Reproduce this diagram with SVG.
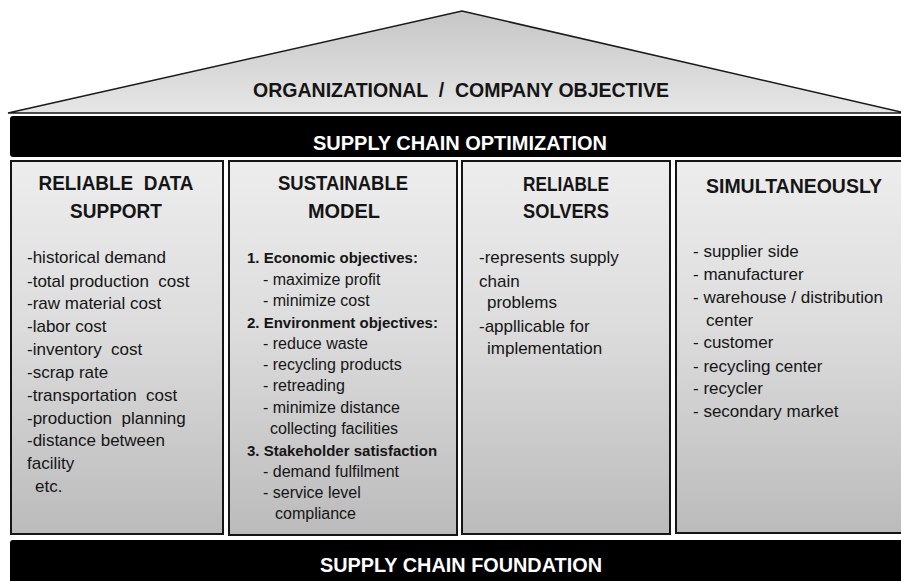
<svg xmlns="http://www.w3.org/2000/svg" width="901" height="581" viewBox="0 0 901 581">
<defs>
<linearGradient id="roofGrad" x1="0" y1="0" x2="0" y2="1">
<stop offset="0" stop-color="#c6c6c6"/>
<stop offset="1" stop-color="#e6e6e6"/>
</linearGradient>
<linearGradient id="colGrad" x1="0" y1="0" x2="0" y2="1">
<stop offset="0" stop-color="#ededed"/>
<stop offset="0.45" stop-color="#dcdcdc"/>
<stop offset="1" stop-color="#bbbbbb"/>
</linearGradient>
<style>
text{white-space:pre}
.col{fill:url(#colGrad);stroke:#151515;stroke-width:2}
.bar{fill:#000}
.hd{font-family:"Liberation Sans",Arial,sans-serif;font-weight:bold;font-size:20px;fill:#151515;text-anchor:middle}
.bt{font-family:"Liberation Sans",Arial,sans-serif;font-weight:bold;font-size:20px;fill:#fff;text-anchor:middle}
.tx{font-family:"Liberation Sans",Arial,sans-serif;font-size:17px;fill:#151515}
.t2{font-family:"Liberation Sans",Arial,sans-serif;font-size:16px;fill:#151515}
.b2{font-family:"Liberation Sans",Arial,sans-serif;font-size:15px;font-weight:bold;fill:#151515}
</style>
</defs>
<rect width="901" height="581" fill="#fff"/>
<g id="roof">
<polygon points="8,113 462,11 901,112 901,113" fill="url(#roofGrad)" stroke="#1a1a1a" stroke-width="1.6" stroke-linejoin="miter"/>
<text class="hd" x="461" y="97" font-size="21" textLength="416" lengthAdjust="spacingAndGlyphs" xml:space="preserve">ORGANIZATIONAL  /  COMPANY OBJECTIVE</text>
</g>
<g id="optimization">
<rect class="bar" x="10" y="116" width="900" height="41" rx="3"/>
<text class="bt" x="460" y="150" textLength="294" lengthAdjust="spacingAndGlyphs">SUPPLY CHAIN OPTIMIZATION</text>
</g>
<g id="reliable-data-support">
<rect class="col" x="11" y="161" width="212" height="373"/>
<text class="hd" x="116" y="190" textLength="155" lengthAdjust="spacingAndGlyphs" xml:space="preserve">RELIABLE  DATA</text>
<text class="hd" x="116" y="218" textLength="92" lengthAdjust="spacingAndGlyphs">SUPPORT</text>
<text class="tx" x="27" y="263">-historical demand</text>
<text class="tx" x="27" y="287" xml:space="preserve">-total production  cost</text>
<text class="tx" x="27" y="309">-raw material cost</text>
<text class="tx" x="27" y="332">-labor cost</text>
<text class="tx" x="27" y="355" xml:space="preserve">-inventory  cost</text>
<text class="tx" x="27" y="378">-scrap rate</text>
<text class="tx" x="27" y="401" xml:space="preserve">-transportation  cost</text>
<text class="tx" x="27" y="424" xml:space="preserve">-production  planning</text>
<text class="tx" x="27" y="446">-distance between</text>
<text class="tx" x="27" y="469">facility</text>
<text class="tx" x="35" y="492">etc.</text>
</g>
<g id="sustainable-model">
<rect class="col" x="229" y="161" width="228" height="374"/>
<text class="hd" x="343" y="190" textLength="130" lengthAdjust="spacingAndGlyphs">SUSTAINABLE</text>
<text class="hd" x="344" y="218" textLength="72" lengthAdjust="spacingAndGlyphs">MODEL</text>
<text class="b2" x="247" y="263">1. Economic objectives:</text>
<text class="t2" x="263" y="285">- maximize profit</text>
<text class="t2" x="263" y="306">- minimize cost</text>
<text class="b2" x="247" y="328">2. Environment objectives:</text>
<text class="t2" x="263" y="349">- reduce waste</text>
<text class="t2" x="263" y="370">- recycling products</text>
<text class="t2" x="263" y="391">- retreading</text>
<text class="t2" x="263" y="413">- minimize distance</text>
<text class="t2" x="270" y="434">collecting facilities</text>
<text class="b2" x="247" y="456">3. Stakeholder satisfaction</text>
<text class="t2" x="263" y="477">- demand fulfilment</text>
<text class="t2" x="263" y="498">- service level</text>
<text class="t2" x="275" y="519">compliance</text>
</g>
<g id="reliable-solvers">
<rect class="col" x="462" y="161" width="208" height="373"/>
<text class="hd" x="566" y="191" textLength="86" lengthAdjust="spacingAndGlyphs">RELIABLE</text>
<text class="hd" x="566" y="218" textLength="86" lengthAdjust="spacingAndGlyphs">SOLVERS</text>
<text class="tx" x="479" y="263">-represents supply</text>
<text class="tx" x="479" y="287">chain</text>
<text class="tx" x="487" y="308">problems</text>
<text class="tx" x="479" y="332">-appllicable for</text>
<text class="tx" x="487" y="354">implementation</text>
</g>
<g id="simultaneously">
<rect class="col" x="676" y="161" width="232" height="372"/>
<text class="hd" x="794" y="193" textLength="176" lengthAdjust="spacingAndGlyphs">SIMULTANEOUSLY</text>
<text class="tx" x="693" y="257">- supplier side</text>
<text class="tx" x="693" y="280">- manufacturer</text>
<text class="tx" x="693" y="303">- warehouse / distribution</text>
<text class="tx" x="706" y="326">center</text>
<text class="tx" x="693" y="348">- customer</text>
<text class="tx" x="693" y="372">- recycling center</text>
<text class="tx" x="693" y="394">- recycler</text>
<text class="tx" x="693" y="417">- secondary market</text>
</g>
<g id="foundation">
<rect class="bar" x="10" y="540" width="900" height="50" rx="3"/>
<text class="bt" x="461" y="572" textLength="282" lengthAdjust="spacingAndGlyphs">SUPPLY CHAIN FOUNDATION</text>
</g>
</svg>
